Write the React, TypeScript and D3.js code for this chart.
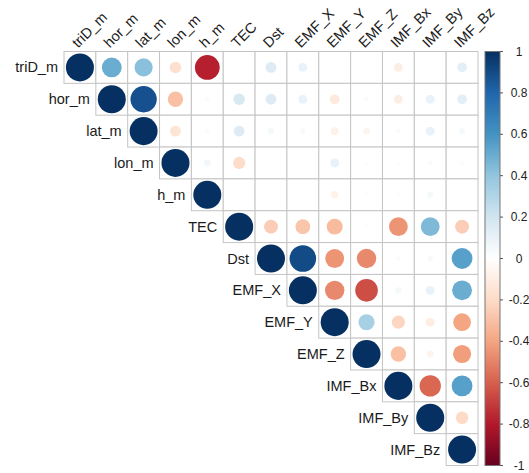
import * as d3 from "d3";

const VARS = [
  "triD_m", "hor_m", "lat_m", "lon_m", "h_m", "TEC", "Dst",
  "EMF_X", "EMF_Y", "EMF_Z", "IMF_Bx", "IMF_By", "IMF_Bz",
];

// upper triangle per row, starting at the diagonal
const R_triD = [1, 0.5, 0.42, -0.17, -0.78, 0.01, 0.15, 0.1, 0.01, 0, -0.1, 0, 0.12];
const R_hor = [1, 0.88, -0.3, -0.03, 0.17, 0.15, 0.1, -0.12, 0.03, -0.1, 0.1, 0.12];
const R_lat = [1, -0.15, -0.03, 0.15, 0.05, 0.04, -0.08, -0.06, 0.03, 0.1, 0.05];
const R_lon = [1, 0.06, -0.19, 0, 0, 0.1, 0.02, 0.02, 0.03, 0.02];
const R_h = [1, 0.01, 0, 0, -0.07, 0.02, 0.02, 0.05, 0];
const R_TEC = [1, -0.25, -0.28, -0.32, 0.02, -0.45, 0.45, -0.25];
const R_Dst = [1, 0.9, -0.45, -0.48, 0.03, 0.04, 0.55];
const R_EMFX = [1, -0.48, -0.65, 0.05, 0.1, 0.5];
const R_EMFY = [1, 0.33, -0.22, -0.1, -0.4];
const R_EMFZ = [1, -0.3, -0.06, -0.42];
const R_Bx = [1, -0.58, 0.55];
const R_By = [1, -0.2];
const R_Bz = [1];

const ROWS = [R_triD, R_hor, R_lat, R_lon, R_h, R_TEC, R_Dst, R_EMFX, R_EMFY, R_EMFZ, R_Bx, R_By, R_Bz];

const LEGEND_TICKS = [1, 0.8, 0.6, 0.4, 0.2, 0, -0.2, -0.4, -0.6, -0.8, -1];

const RDBU = [
  "#67001F", "#B2182B", "#D6604D", "#F4A582", "#FDDBC7", "#FFFFFF",
  "#D1E5F0", "#92C5DE", "#4393C3", "#2166AC", "#053061",
];

const GRID = { left: 64, top: 51.5, right: 478, bottom: 465.5, line: "#c4c4c4" };
const BAR = { x: 485, width: 15, tick: 3, labelX: 519, fontSize: 12 };
const LABEL = { fontSize: 14.5, color: "#1a1a1a", font: "Liberation Sans, Arial, sans-serif" };

export default function App() {
  const x = d3.scaleBand().domain(VARS).range([GRID.left, GRID.right]);
  const y = d3.scaleBand().domain(VARS).range([GRID.top, GRID.bottom]);
  const cell = x.bandwidth();

  const color = d3
    .scaleLinear<string>()
    .domain(d3.range(11).map((i) => -1 + i * 0.2))
    .range(RDBU)
    .interpolate(d3.interpolateRgb);
  const radius = d3.scaleSqrt().domain([0, 1]).range([0, cell * 0.44]);

  const barY = d3.scaleLinear().domain([1, -1]).range([GRID.top, GRID.bottom]);

  const cells = ROWS.flatMap((row, i) =>
    row.map((r, k) => ({ row: VARS[i], col: VARS[i + k], r })),
  );

  return (
    <svg
      width={529}
      height={473}
      style={{ position: "absolute", left: 0, top: 0, background: "#fff" }}
      xmlns="http://www.w3.org/2000/svg"
    >
      <defs>
        <linearGradient id="rdbu" x1="0" y1="0" x2="0" y2="1">
          {RDBU.slice()
            .reverse()
            .map((c, i) => (
              <stop key={i} offset={`${i * 10}%`} stopColor={c} />
            ))}
        </linearGradient>
      </defs>

      <g className="cells">
        {cells.map((d) => (
          <rect
            key={`g-${d.row}-${d.col}`}
            x={x(d.col)!}
            y={y(d.row)!}
            width={cell}
            height={cell}
            fill="#fff"
            stroke={GRID.line}
            strokeWidth={1}
          />
        ))}
        {cells.map((d) => (
          <circle
            key={`c-${d.row}-${d.col}`}
            cx={x(d.col)! + cell / 2}
            cy={y(d.row)! + cell / 2}
            r={radius(Math.abs(d.r))}
            fill={color(d.r)}
          />
        ))}
      </g>

      <g className="row-labels">
        {VARS.map((v) => (
          <text
            key={v}
            x={x(v)! - 6}
            y={y(v)! + cell / 2}
            textAnchor="end"
            dominantBaseline="central"
            fontSize={LABEL.fontSize}
            fontFamily={LABEL.font}
            fill={LABEL.color}
          >
            {v}
          </text>
        ))}
      </g>

      <g className="col-labels">
        {VARS.map((v) => {
          const cx = x(v)! + cell / 2 - 2;
          const cy = GRID.top - 3;
          return (
            <text
              key={v}
              transform={`translate(${cx},${cy}) rotate(-45)`}
              fontSize={LABEL.fontSize}
              fontFamily={LABEL.font}
              fill={LABEL.color}
            >
              {v}
            </text>
          );
        })}
      </g>

      <g className="color-legend">
        <rect
          x={BAR.x}
          y={GRID.top}
          width={BAR.width}
          height={GRID.bottom - GRID.top}
          fill="url(#rdbu)"
          stroke="#777"
          strokeWidth={1}
        />
        {LEGEND_TICKS.map((t) => (
          <g key={t}>
            <line
              x1={BAR.x + BAR.width}
              x2={BAR.x + BAR.width + BAR.tick}
              y1={barY(t)}
              y2={barY(t)}
              stroke="#555"
            />
            <text
              x={BAR.labelX}
              y={barY(t)}
              textAnchor="middle"
              dominantBaseline="central"
              fontSize={BAR.fontSize}
              fontFamily={LABEL.font}
              fill="#222"
            >
              {t}
            </text>
          </g>
        ))}
      </g>
    </svg>
  );
}
